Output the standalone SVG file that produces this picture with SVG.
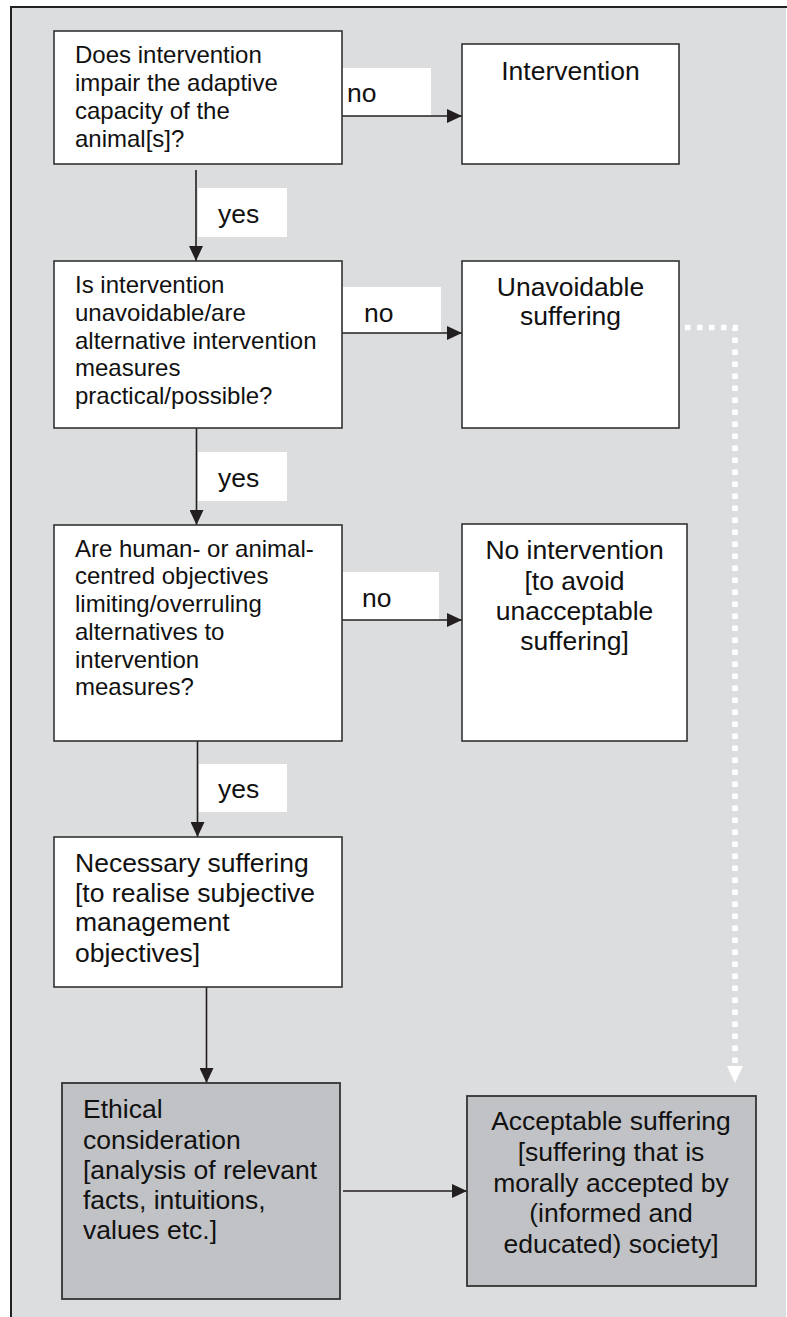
<svg xmlns="http://www.w3.org/2000/svg" width="787" height="1317" viewBox="0 0 787 1317">
<style>
.box{fill:#fff;stroke:#333;stroke-width:1.6}
.gbox{fill:#c1c2c5;stroke:#333;stroke-width:1.8}
.lbl{fill:#fff}
.q{font-family:"Liberation Sans",Arial,sans-serif;font-size:24px;fill:#111}
.t{font-family:"Liberation Sans",Arial,sans-serif;font-size:26.5px;fill:#111}
.c{text-anchor:middle}
.conn{stroke:#231f20;stroke-width:1.6;fill:none}
.dot{stroke:#fff;stroke-width:5.5;fill:none;stroke-dasharray:5.5 6.5}
</style>
<defs>
<marker id="ah" viewBox="0 0 15 14" refX="15" refY="7" markerWidth="15" markerHeight="14" markerUnits="userSpaceOnUse" orient="auto">
<path d="M0,0 L15,7 L0,14 Z" fill="#231f20"/>
</marker>
<marker id="wh" viewBox="0 0 17 16" refX="17" refY="8" markerWidth="17" markerHeight="16" markerUnits="userSpaceOnUse" orient="auto">
<path d="M0,0 L17,8 L0,16 Z" fill="#fff"/>
</marker>
</defs>
<rect x="0" y="0" width="787" height="1317" fill="#fff"/>
<rect x="11" y="7" width="775" height="1310" fill="#dcdddf"/>
<path d="M11,1317 V7 H787" fill="none" stroke="#222" stroke-width="2"/>

<g id="labels">
<rect class="lbl" x="343" y="68" width="88" height="48"/>
<rect class="lbl" x="343" y="287" width="98" height="46"/>
<rect class="lbl" x="343" y="572" width="96" height="48"/>
<rect class="lbl" x="198" y="188" width="89" height="49"/>
<rect class="lbl" x="198" y="452" width="89" height="49"/>
<rect class="lbl" x="199" y="764" width="88" height="48"/>
<text class="t" x="347" y="101.7">no</text>
<text class="t" x="364" y="321.7">no</text>
<text class="t" x="362" y="606.7">no</text>
<text class="t" x="218" y="222.7">yes</text>
<text class="t" x="218" y="486.7">yes</text>
<text class="t" x="218" y="798.3">yes</text>
</g>

<g id="connectors">
<line class="conn" x1="196" y1="170" x2="196" y2="261" marker-end="url(#ah)"/>
<line class="conn" x1="196.5" y1="428" x2="196.5" y2="525" marker-end="url(#ah)"/>
<line class="conn" x1="197.5" y1="741" x2="197.5" y2="837" marker-end="url(#ah)"/>
<line class="conn" x1="206.5" y1="982" x2="206.5" y2="1083" marker-end="url(#ah)"/>
<line class="conn" x1="342" y1="116" x2="462" y2="116" marker-end="url(#ah)"/>
<line class="conn" x1="342" y1="333" x2="462" y2="333" marker-end="url(#ah)"/>
<line class="conn" x1="342" y1="620" x2="462" y2="620" marker-end="url(#ah)"/>
<line class="conn" x1="343" y1="1191" x2="467" y2="1191" marker-end="url(#ah)"/>
<path class="dot" d="M685,327.5 H735 V1066"/>
<path d="M727,1066 L743,1066 L735,1083 Z" fill="#fff"/>
</g>

<g id="n1">
<rect class="box" x="54" y="31" width="288" height="133"/>
<text class="q" x="75" y="63.3">Does intervention</text>
<text class="q" x="75" y="91">impair the adaptive</text>
<text class="q" x="75" y="118.5">capacity of the</text>
<text class="q" x="75" y="146.5">animal[s]?</text>
</g>
<g id="n2">
<rect class="box" x="462" y="44" width="217" height="120"/>
<text class="t c" x="570.5" y="80">Intervention</text>
</g>
<g id="n3">
<rect class="box" x="54" y="261" width="288" height="167"/>
<text class="q" x="75" y="293.3">Is intervention</text>
<text class="q" x="75" y="321">unavoidable/are</text>
<text class="q" x="75" y="349">alternative intervention</text>
<text class="q" x="75" y="376">measures</text>
<text class="q" x="75" y="403.5">practical/possible?</text>
</g>
<g id="n4">
<rect class="box" x="462" y="261" width="217" height="167"/>
<text class="t c" x="570.5" y="295.7">Unavoidable</text>
<text class="t c" x="570.5" y="325">suffering</text>
</g>
<g id="n5">
<rect class="box" x="54" y="525" width="288" height="216"/>
<text class="q" x="75" y="556.7">Are human- or animal-</text>
<text class="q" x="75" y="584.3">centred objectives</text>
<text class="q" x="75" y="611.7">limiting/overruling</text>
<text class="q" x="75" y="640">alternatives to</text>
<text class="q" x="75" y="667.7">intervention</text>
<text class="q" x="75" y="695">measures?</text>
</g>
<g id="n6">
<rect class="box" x="462" y="524" width="225" height="217"/>
<text class="t c" x="574.5" y="559">No intervention</text>
<text class="t c" x="574.5" y="589.5">[to avoid</text>
<text class="t c" x="574.5" y="620">unacceptable</text>
<text class="t c" x="574.5" y="650">suffering]</text>
</g>
<g id="n7">
<rect class="box" x="54" y="837" width="288" height="150"/>
<text class="t" x="75" y="871.7">Necessary suffering</text>
<text class="t" x="75" y="901.7">[to realise subjective</text>
<text class="t" x="75" y="931">management</text>
<text class="t" x="75" y="961.7">objectives]</text>
</g>
<g id="n8">
<rect class="gbox" x="62" y="1083" width="278" height="216"/>
<text class="t" x="83" y="1118.3">Ethical</text>
<text class="t" x="83" y="1149.3">consideration</text>
<text class="t" x="83" y="1178.8">[analysis of relevant</text>
<text class="t" x="83" y="1209.3">facts, intuitions,</text>
<text class="t" x="83" y="1239.3">values etc.]</text>
</g>
<g id="n9">
<rect class="gbox" x="467" y="1096" width="289" height="190"/>
<text class="t c" x="611" y="1130">Acceptable suffering</text>
<text class="t c" x="611" y="1161">[suffering that is</text>
<text class="t c" x="611" y="1191.7">morally accepted by</text>
<text class="t c" x="611" y="1222.3">(informed and</text>
<text class="t c" x="611" y="1252.7">educated) society]</text>
</g>
</svg>
